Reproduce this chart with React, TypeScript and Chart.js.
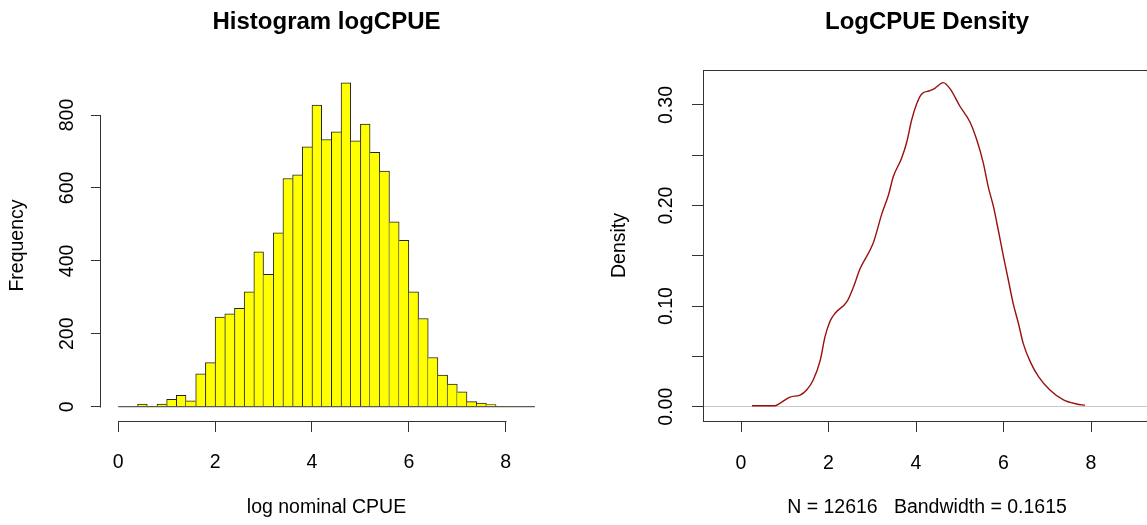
import React, { useEffect, useRef } from "react";
import { Chart, registerables } from "chart.js";

Chart.register(...registerables);

// ---- Histogram of log nominal CPUE (bin edges and counts per bin) ----
const histBreaks = [
  0, 0.2, 0.4, 0.6, 0.8, 1.0, 1.2, 1.4, 1.6, 1.8, 2.0, 2.2, 2.4, 2.6, 2.8,
  3.0, 3.2, 3.4, 3.6, 3.8, 4.0, 4.2, 4.4, 4.6, 4.8, 5.0, 5.2, 5.4, 5.6, 5.8,
  6.0, 6.2, 6.4, 6.6, 6.8, 7.0, 7.2, 7.4, 7.6, 7.8, 8.0, 8.2, 8.4, 8.6,
];
const histCounts = [
  0, 0, 7, 0, 7, 20, 31, 16, 90, 121, 246, 255, 270, 315, 425, 363, 477, 626,
  636, 713, 827, 733, 754, 888, 729, 775, 698, 646, 507, 456, 315, 242, 135,
  87, 62, 41, 14, 10, 6, 0, 0, 0, 1,
];
const histXTicks = [0, 2, 4, 6, 8];
const histXTickLabels = ["0", "2", "4", "6", "8"];
const histYTicks = [0, 200, 400, 600, 800];
const histYTickLabels = ["0", "200", "400", "600", "800"];

// ---- Kernel density estimate of logCPUE ----
const densX = [
  0.25, 0.78, 0.89, 1.12, 1.35, 1.5, 1.65, 1.81, 1.92, 2.03, 2.15, 2.42, 2.57,
  2.72, 3.02, 3.22, 3.37, 3.48, 3.67, 3.79, 3.9, 4.02, 4.13, 4.32, 4.43, 4.62,
  4.78, 5.0, 5.23, 5.39, 5.54, 5.65, 5.77, 5.88, 6.0, 6.11, 6.22, 6.34, 6.45,
  6.61, 6.8, 7.06, 7.37, 7.67, 7.86,
];
const densY = [
  0.001, 0.001, 0.0034, 0.0096, 0.0116, 0.0166, 0.0265, 0.046, 0.0696, 0.0845,
  0.0929, 0.1044, 0.119, 0.1371, 0.1625, 0.192, 0.2105, 0.2287, 0.247, 0.2635,
  0.2851, 0.3017, 0.311, 0.3142, 0.3166, 0.3222, 0.316, 0.299, 0.2834, 0.2652,
  0.242, 0.2188, 0.1989, 0.1757, 0.149, 0.126, 0.1028, 0.083, 0.063, 0.0448,
  0.0298, 0.0166, 0.0067, 0.0027, 0.0014,
];
const densXTicks = [0, 2, 4, 6, 8];
const densXTickLabels = ["0", "2", "4", "6", "8"];
const densYTicks = [0, 0.05, 0.1, 0.15, 0.2, 0.25, 0.3];
const densYTickLabels = ["0.00", "", "0.10", "", "0.20", "", "0.30"];
const densN = 12616;
const densBandwidth = 0.1615;

const FONT = '"Liberation Sans", Arial, Helvetica, sans-serif';
const AXIS = "#333333";
const TEXT = "#000000";
const BAR_FILL = "#ffff00";
const CURVE = "#9a0f0f";
const ZERO_LINE = "#c8c8c8";

const titleFont = { family: FONT, size: 24, weight: "bold" as const, lineHeight: 1.2 };
const labelFont = { family: FONT, size: 19.5, lineHeight: 1.2 };

// Draws axis lines that run only from the first to the last tick.
const tickSpanAxes = {
  id: "tickSpanAxes",
  afterDraw(chart: any) {
    const { ctx, chartArea } = chart;
    const xs = chart.scales.x;
    const ys = chart.scales.y;
    ctx.save();
    ctx.strokeStyle = AXIS;
    ctx.lineWidth = 1;
    ctx.beginPath();
    const yb = Math.round(chartArea.bottom) + 0.5;
    ctx.moveTo(Math.round(xs.getPixelForValue(histXTicks[0])) + 0.5, yb);
    ctx.lineTo(Math.round(xs.getPixelForValue(histXTicks[histXTicks.length - 1])) + 0.5, yb);
    const xl = Math.round(chartArea.left) - 0.5;
    ctx.moveTo(xl, Math.round(ys.getPixelForValue(histYTicks[0])) + 0.5);
    ctx.lineTo(xl, Math.round(ys.getPixelForValue(histYTicks[histYTicks.length - 1])) + 0.5);
    ctx.stroke();
    ctx.restore();
  },
};

function fixedTicks(values: number[]) {
  return (scale: any) => {
    scale.ticks = values.map((v) => ({ value: v }));
  };
}

function HistogramPanel() {
  const ref = useRef<HTMLCanvasElement>(null);
  useEffect(() => {
    if (!ref.current) return;
    const bars = histCounts.map((c, i) => ({
      x: (histBreaks[i] + histBreaks[i + 1]) / 2,
      y: c,
    }));
    // Shared edges between neighbouring bars are drawn once, by the taller bar.
    const edgeWidths = (ctx: any) => {
      const i = ctx.dataIndex;
      const h = histCounts[i];
      const prev = i > 0 ? histCounts[i - 1] : 0;
      const next = i < histCounts.length - 1 ? histCounts[i + 1] : 0;
      return {
        top: 1,
        bottom: 0,
        left: h >= prev ? 1 : 0,
        right: h > next ? 1 : 0,
      };
    };
    const chart = new Chart(ref.current, {
      type: "bar",
      data: {
        datasets: [
          {
            type: "line",
            data: [
              { x: histBreaks[0], y: 0 },
              { x: histBreaks[histBreaks.length - 1], y: 0 },
            ],
            borderColor: AXIS,
            borderWidth: 1,
            pointRadius: 0,
            order: 0,
          } as any,
          {
            type: "bar",
            data: bars,
            backgroundColor: BAR_FILL,
            borderColor: "#222222",
            borderWidth: edgeWidths,
            borderSkipped: false,
            barPercentage: 1,
            categoryPercentage: 1,
            order: 1,
          } as any,
        ],
      },
      options: {
        animation: false,
        responsive: false,
        maintainAspectRatio: false,
        layout: { padding: { left: 0, right: 21, top: 0, bottom: 0 } },
        plugins: {
          legend: { display: false },
          tooltip: { enabled: false },
          title: {
            display: true,
            text: "Histogram logCPUE",
            color: TEXT,
            font: titleFont,
            fullSize: false,
            padding: { top: 7.6, bottom: 33.6 },
          },
        },
        scales: {
          x: {
            type: "linear",
            offset: false,
            min: -0.355,
            max: 8.955,
            afterBuildTicks: fixedTicks(histXTicks),
            afterFit: (s: any) => {
              s.height = 104;
            },
            grid: {
              display: true,
              offset: false,
              drawOnChartArea: false,
              drawTicks: true,
              tickLength: 11,
              color: AXIS,
              lineWidth: 1,
            },
            border: { display: false },
            ticks: {
              color: TEXT,
              font: labelFont,
              padding: 18.5,
              maxRotation: 0,
              autoSkip: false,
              callback: (_v: any, i: number) => histXTickLabels[i],
            },
            title: {
              display: true,
              text: "log nominal CPUE",
              color: TEXT,
              font: labelFont,
              padding: { top: 0, bottom: 5.3 },
            },
          },
          y: {
            type: "linear",
            min: -39.2,
            max: 923.5,
            afterBuildTicks: fixedTicks(histYTicks),
            afterFit: (s: any) => {
              s.width = 101;
            },
            grid: {
              display: true,
              drawOnChartArea: false,
              drawTicks: true,
              tickLength: 10,
              color: AXIS,
              lineWidth: 1,
            },
            border: { display: false },
            ticks: {
              color: TEXT,
              font: labelFont,
              padding: 6.7,
              minRotation: 90,
              maxRotation: 90,
              crossAlign: "center",
              autoSkip: false,
              callback: (_v: any, i: number) => histYTickLabels[i],
            },
            title: {
              display: true,
              text: "Frequency",
              color: TEXT,
              font: labelFont,
              padding: { top: 6, bottom: 0 },
            },
          },
        },
      },
      plugins: [tickSpanAxes],
    } as any);
    return () => chart.destroy();
  }, []);
  return (
    <canvas
      ref={ref}
      width={573}
      height={525}
      style={{ position: "absolute", left: 0, top: 0, display: "block" }}
    />
  );
}

function DensityPanel() {
  const ref = useRef<HTMLCanvasElement>(null);
  useEffect(() => {
    if (!ref.current) return;
    const pts = densX.map((x, i) => ({ x, y: densY[i] }));
    const chart = new Chart(ref.current, {
      type: "line",
      data: {
        datasets: [
          {
            data: pts,
            borderColor: CURVE,
            borderWidth: 1.4,
            pointRadius: 0,
            cubicInterpolationMode: "monotone",
            fill: false,
          },
        ],
      },
      options: {
        animation: false,
        responsive: false,
        maintainAspectRatio: false,
        layout: { padding: { left: 0, right: 0, top: 0, bottom: 0 } },
        plugins: {
          legend: { display: false },
          tooltip: { enabled: false },
          title: {
            display: true,
            text: "LogCPUE Density",
            color: TEXT,
            font: titleFont,
            fullSize: false,
            padding: { top: 7.6, bottom: 33.6 },
          },
        },
        scales: {
          x: {
            type: "linear",
            min: -0.869,
            max: 9.371,
            afterBuildTicks: fixedTicks(densXTicks),
            afterFit: (s: any) => {
              s.height = 104;
            },
            grid: {
              display: true,
              drawOnChartArea: false,
              drawTicks: true,
              tickLength: 11,
              color: AXIS,
              lineWidth: 1,
            },
            border: { display: true, color: AXIS, width: 1 },
            ticks: {
              color: TEXT,
              font: labelFont,
              padding: 19.5,
              maxRotation: 0,
              autoSkip: false,
              callback: (_v: any, i: number) => densXTickLabels[i],
            },
            title: {
              display: true,
              text: `N = ${densN}   Bandwidth = ${densBandwidth}`,
              color: TEXT,
              font: labelFont,
              padding: { top: 0, bottom: 5.3 },
            },
          },
          xTop: {
            type: "linear",
            position: "top",
            min: -0.869,
            max: 9.371,
            afterFit: (s: any) => {
              s.height = 0;
            },
            grid: { display: false, drawTicks: false },
            border: { display: true, color: AXIS, width: 1 },
            ticks: { display: false },
          },
          y: {
            type: "linear",
            min: -0.01422,
            max: 0.3348,
            afterBuildTicks: fixedTicks(densYTicks),
            afterFit: (s: any) => {
              s.width = 130;
            },
            grid: {
              display: true,
              drawOnChartArea: true,
              drawTicks: true,
              tickLength: 11,
              lineWidth: 1,
              color: (ctx: any) =>
                ctx.tick && ctx.tick.value === 0 ? ZERO_LINE : "rgba(0,0,0,0)",
              tickColor: AXIS,
            },
            border: { display: true, color: AXIS, width: 1 },
            ticks: {
              color: TEXT,
              font: labelFont,
              padding: 6,
              minRotation: 90,
              maxRotation: 90,
              crossAlign: "center",
              autoSkip: false,
              callback: (_v: any, i: number) => densYTickLabels[i],
            },
            title: {
              display: true,
              text: "Density",
              color: TEXT,
              font: labelFont,
              padding: { top: 35, bottom: 0 },
            },
          },
        },
      },
    } as any);
    return () => chart.destroy();
  }, []);
  return (
    <canvas
      ref={ref}
      width={578}
      height={525}
      style={{ position: "absolute", left: 573, top: 0, display: "block" }}
    />
  );
}

export default function App() {
  return (
    <div
      style={{
        position: "fixed",
        left: 0,
        top: 0,
        width: 1147,
        height: 525,
        overflow: "hidden",
        background: "#ffffff",
      }}
    >
      <HistogramPanel />
      <DensityPanel />
    </div>
  );
}
